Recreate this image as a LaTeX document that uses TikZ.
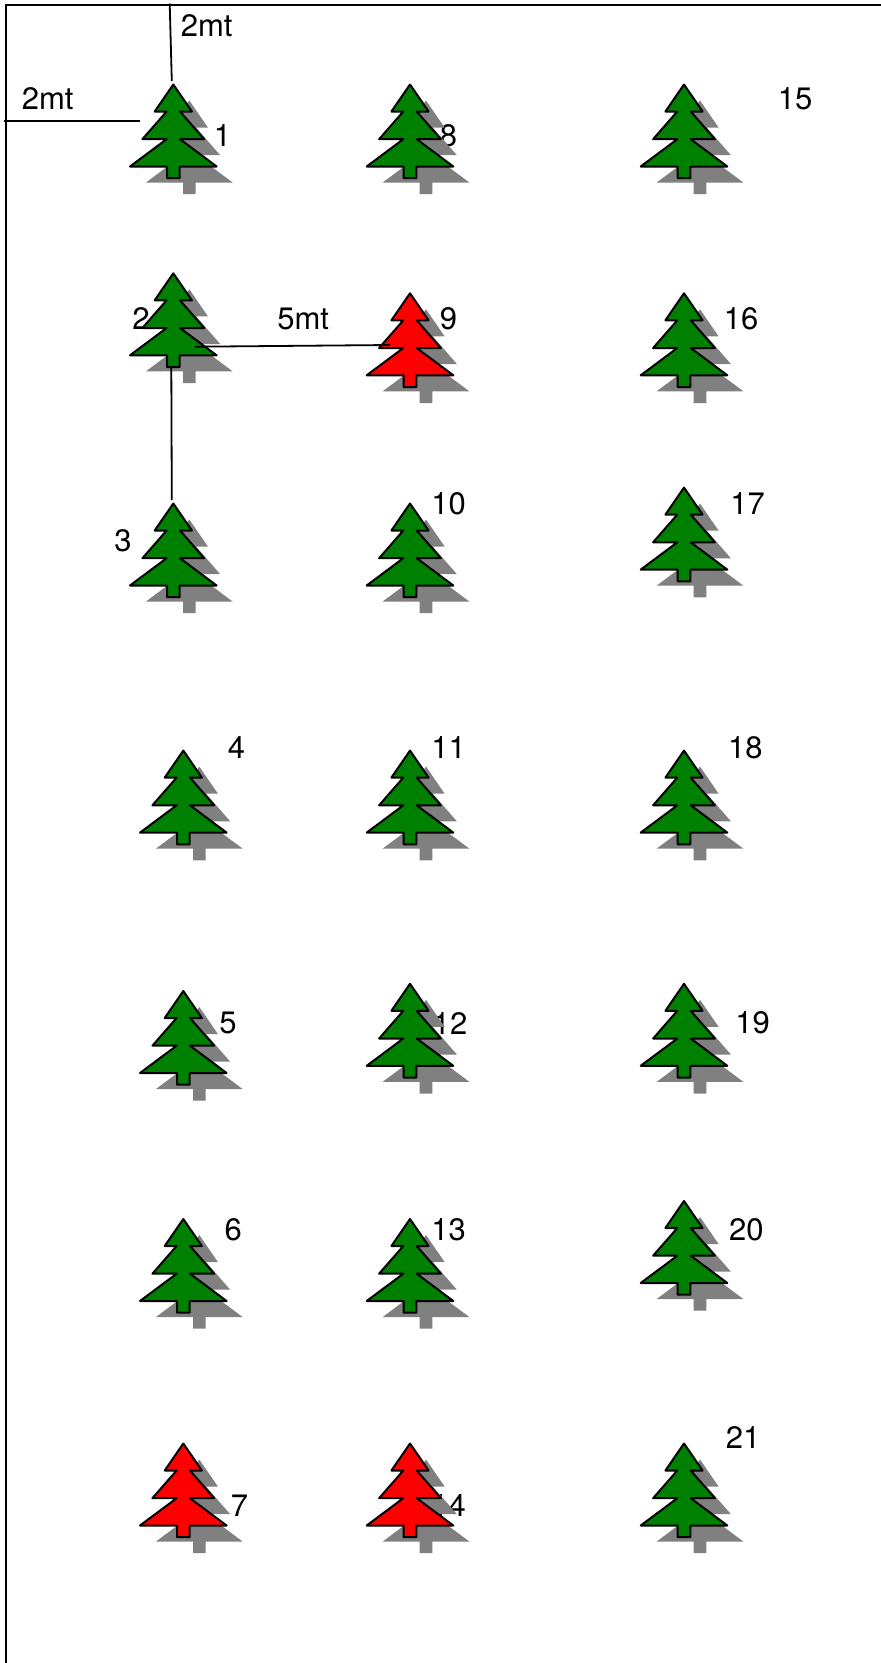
\documentclass[tikz,border=0pt]{standalone}
\usepackage{fontspec}
\setmainfont{TeX Gyre Heros}
\usetikzlibrary{positioning}
\definecolor{treegreen}{HTML}{008000}
\definecolor{treered}{HTML}{FF0000}
\definecolor{shadegray}{HTML}{808080}
\newcommand{\treepath}{(0,1) -- (18.6,28) -- (6.7,28) -- (30.9,55.7) -- (6.7,55.7) -- (43.3,83) -- (6.3,83) -- (6.3,94.7)
  -- (-6.3,94.7) -- (-6.3,83) -- (-43.3,83) -- (-6.7,55.7) -- (-30.9,55.7) -- (-6.7,28) -- (-18.6,28) -- cycle}
\begin{document}
\begin{tikzpicture}[
      x=1pt, y=-1pt,
      lbl/.style={font=\fontsize{31}{35}\selectfont, inner sep=0pt, text=black},
      wall/.style={line width=2pt, draw=black},
      span/.style={line width=1.8pt, draw=black},
      pics/tree/.style={code={
          \fill[shadegray, shift={(16,16)}] \treepath;
          \draw[line width=2pt, line join=round, draw=black, fill=#1] \treepath;
          \coordinate (-top) at (-1.5,-2.5);
          \coordinate (-base) at (-2,95);
        }}
    ]
    \useasboundingbox (0,0) rectangle (881,1663);
    % boundary
    \coordinate (wallright) at (881,5);
    \coordinate (wallcorner) at (6,5);
    \coordinate (wallbottom) at (6,1663);
    \draw[wall] (wallright) -- (wallcorner) -- (wallbottom);

    % numbers go under the trees
    \node[lbl] (n1) at (222.6,135.7) {1};
    \node[lbl] (n2) at (141,319) {2};
    \node[lbl] (n3) at (123,540.7) {3};
    \node[lbl] (n4) at (236.4,747.5) {4};
    \node[lbl] (n5) at (228,1023) {5};
    \node[lbl] (n6) at (233.2,1229.8) {6};
    \node[lbl] (n7) at (239.6,1505.5) {7};
    \node[lbl] (n8) at (448.5,135.7) {8};
    \node[lbl] (n9) at (448.5,319) {9};
    \node[lbl] (n10) at (448.5,503.6) {10};
    \node[lbl] (n11) at (448.5,747.5) {11};
    \node[lbl] (n12) at (450,1023) {12};
    \node[lbl] (n13) at (448.5,1229.8) {13};
    \node[lbl] (n14) at (448.5,1505.5) {14};
    \node[lbl] (n15) at (795,98.6) {15};
    \node[lbl] (n16) at (741,319) {16};
    \node[lbl] (n17) at (747.5,503.6) {17};
    \node[lbl] (n18) at (745.3,747.5) {18};
    \node[lbl] (n19) at (752.7,1023) {19};
    \node[lbl] (n20) at (746.4,1229.8) {20};
    \node[lbl] (n21) at (743.2,1437.7) {21};

    % trees
    \pic (t1) at (173.3,83.5) {tree=treegreen};
    \pic (t2) at (173.3,272.3) {tree=treegreen};
    \pic (t3) at (173.3,502.5) {tree=treegreen};
    \pic (t4) at (183.3,749.6) {tree=treegreen};
    \pic (t5) at (183.3,990) {tree=treegreen};
    \pic (t6) at (183.3,1218) {tree=treegreen};
    \pic (t7) at (183.3,1442.5) {tree=treered};
    \pic (t8) at (410,83.5) {tree=treegreen};
    \pic (t9) at (410,292.3) {tree=treered};
    \pic (t10) at (410,502.5) {tree=treegreen};
    \pic (t11) at (410,749.6) {tree=treegreen};
    \pic (t12) at (410,982.8) {tree=treegreen};
    \pic (t13) at (410,1218) {tree=treegreen};
    \pic (t14) at (410,1442.5) {tree=treered};
    \pic (t15) at (684,83.5) {tree=treegreen};
    \pic (t16) at (684,292.3) {tree=treegreen};
    \pic (t17) at (684,486.6) {tree=treegreen};
    \pic (t18) at (684,749.6) {tree=treegreen};
    \pic (t19) at (684,982.8) {tree=treegreen};
    \pic (t20) at (684,1200) {tree=treegreen};
    \pic (t21) at (684,1442.5) {tree=treegreen};

    % distances
    \coordinate (topfoot) at (169.7,3.5);
    \coordinate (leftfoot) at (3.5,120.7);
    \coordinate (leftend) at (140,120.7);
    \coordinate (midstart) at (195,346.7);
    \coordinate (midend) at (390,345);
    \draw[span] (topfoot) -- (t1-top);
    \draw[span] (leftfoot) -- (leftend);
    \draw[span] (midstart) -- (midend);
    \draw[span] (t2-base) -- (t3-top);
    \node[lbl] (dtop) at (206.7,25.4) {2mt};
    \node[lbl] (dleft) at (47.7,98.6) {2mt};
    \node[lbl] (dmid) at (303.2,319) {5mt};
  \end{tikzpicture}
\end{document}
